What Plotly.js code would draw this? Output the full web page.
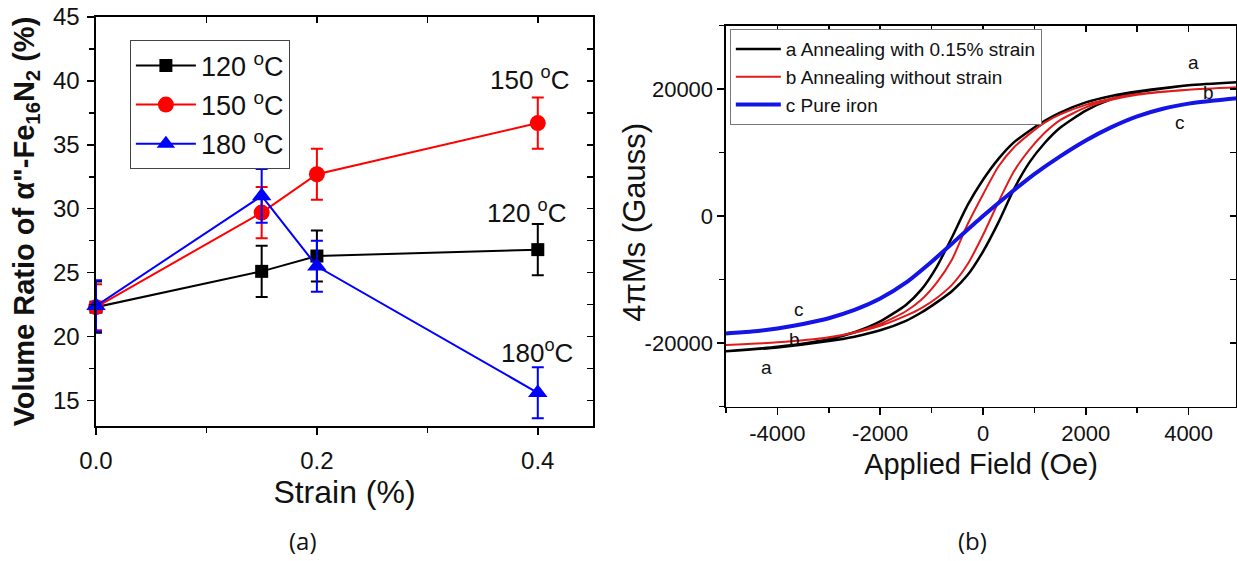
<!DOCTYPE html>
<html><head><meta charset="utf-8">
<script src="https://cdn.plot.ly/plotly-3.0.1.min.js"></script>
<style>html,body{margin:0;padding:0;background:#fff}#chart{width:1237px;height:561px}</style>
</head><body><div id="chart"></div>
<script>
// ---- Panel (a) data ----
const strain = [0, 0.15, 0.2, 0.4];
const ratio120 = [22.3, 25.1, 26.3, 26.8];
const err120 = [2, 2, 2, 2];
const ratio150 = [22.3, 29.7, 32.7, 36.7];
const err150 = [1.8, 2, 2, 2];
const ratio180 = [22.4, 31.0, 25.5, 15.6];
const err180 = [2, 2.1, 2, 2];
const seriesNames = ['120 <sup>o</sup>C', '150 <sup>o</sup>C', '180 <sup>o</sup>C'];

// ---- Panel (b) data: hysteresis loops (descending then ascending branch) ----
const aDescH = [5000, 4000, 3000, 2500, 2000, 1500, 1200, 900, 600, 300, 0, -300, -600, -900, -1200, -1500, -2000, -2500, -3000, -4000, -5000];
const aDescM = [21100, 20600, 19600, 18900, 17900, 16300, 15000, 13400, 11600, 9000, 5700, 1700, -3300, -8000, -11600, -14000, -16600, -18300, -19400, -20600, -21300];
const aAscH = [-5000, -4000, -3000, -2500, -2000, -1500, -1200, -900, -600, -300, 0, 300, 600, 900, 1200, 1500, 2000, 2500, 3000, 4000, 5000];
const aAscM = [-21300, -20700, -19700, -19000, -18000, -16500, -15200, -13600, -11800, -9300, -5600, -1000, 4200, 8400, 11500, 13900, 16600, 18400, 19500, 20600, 21100];

const bDescH = [5000, 4000, 3000, 2500, 2000, 1500, 1200, 900, 600, 300, 0, -300, -600, -900, -1200, -1500, -2000, -2500, -3000, -4000, -5000];
const bDescM = [20300, 19900, 19200, 18500, 17500, 16000, 14700, 12900, 10800, 7800, 3400, -1300, -6800, -10500, -13200, -15000, -17000, -18300, -19100, -19900, -20300];
const bAscH = [-5000, -4000, -3000, -2500, -2000, -1500, -1200, -900, -600, -300, 0, 300, 600, 900, 1200, 1500, 2000, 2500, 3000, 4000, 5000];
const bAscM = [-20300, -19900, -19150, -18400, -17300, -15700, -14500, -12900, -10800, -7600, -3000, 2200, 7000, 10400, 13100, 15100, 17100, 18300, 19100, 19900, 20300];

const cH = [-5000, -4500, -4000, -3500, -3000, -2500, -2000, -1500, -1000, -500, 0, 500, 1000, 1500, 2000, 2500, 3000, 3500, 4000, 4500, 5000];
const cM = [-18500, -18200, -17700, -17000, -16100, -14800, -13000, -10500, -7200, -3600, 0, 3400, 6600, 9400, 11900, 14000, 15700, 16900, 17700, 18200, 18600];
const loopNames = ['a Annealing with 0.15% strain', 'b Annealing without strain', 'c Pure iron'];

const FONT = 'Liberation Sans, Arial, sans-serif';

function errTrace(y, e, color, symbol, size, name, grp) {
  return {
    type: 'scatter', mode: 'lines+markers', x: strain, y: y, name: name,
    legendgroup: grp, legend: 'legend', cliponaxis: false,
    line: {color: color, width: 2},
    marker: {color: color, symbol: symbol, size: size},
    error_y: {type: 'data', array: e, visible: true, color: color, thickness: 2, width: 6},
    xaxis: 'x', yaxis: 'y', hoverinfo: 'skip'
  };
}

const traces = [
  errTrace(ratio120, err120, '#000000', 'square', 13, seriesNames[0], 'g1'),
  errTrace(ratio150, err150, '#ff0000', 'circle', 16, seriesNames[1], 'g2'),
  errTrace(ratio180, err180, '#0000ff', 'triangle-up', 17, seriesNames[2], 'g3'),
  {type: 'scatter', mode: 'lines', x: aDescH.concat(aAscH), y: aDescM.concat(aAscM), name: loopNames[0],
   legend: 'legend2', line: {color: '#000000', width: 2.5, shape: 'spline', smoothing: 0.6}, xaxis: 'x2', yaxis: 'y2', hoverinfo: 'skip'},
  {type: 'scatter', mode: 'lines', x: bDescH.concat(bAscH), y: bDescM.concat(bAscM), name: loopNames[1],
   legend: 'legend2', line: {color: '#e01b1b', width: 2, shape: 'spline', smoothing: 0.6}, xaxis: 'x2', yaxis: 'y2', hoverinfo: 'skip'},
  {type: 'scatter', mode: 'lines', x: cH, y: cM, name: loopNames[2],
   legend: 'legend2', line: {color: '#1414e6', width: 4, shape: 'spline', smoothing: 0.6}, xaxis: 'x2', yaxis: 'y2', hoverinfo: 'skip'},
  // empty helpers so the mirrored inner-tick axes are drawn
  {type: 'scatter', x: [], y: [], xaxis: 'x3', yaxis: 'y', showlegend: false, hoverinfo: 'skip'},
  {type: 'scatter', x: [], y: [], xaxis: 'x', yaxis: 'y3', showlegend: false, hoverinfo: 'skip'},
  {type: 'scatter', x: [], y: [], xaxis: 'x4', yaxis: 'y2', showlegend: false, hoverinfo: 'skip'},
  {type: 'scatter', x: [], y: [], xaxis: 'x2', yaxis: 'y4', showlegend: false, hoverinfo: 'skip'}
];

const axBase = {showgrid: false, zeroline: false, showline: true, linecolor: '#000', linewidth: 1.5,
  ticks: 'outside', ticklen: 7, tickwidth: 1.5, tickcolor: '#000', fixedrange: true,
  tickfont: {family: FONT, size: 24, color: '#111'}};
const innerBase = {showgrid: false, zeroline: false, showline: false, ticks: 'inside', ticklen: 6,
  tickwidth: 1.5, tickcolor: '#000', showticklabels: false, fixedrange: true};

const xRangeA = [0, 0.45], yRangeA = [13, 45];
const xRangeB = [-5000, 4922], yRangeB = [-30000, 30000];

const layout = {
  width: 1237, height: 561, margin: {l: 0, r: 0, t: 0, b: 0},
  paper_bgcolor: '#fff', plot_bgcolor: 'rgba(0,0,0,0)', hovermode: false,
  font: {family: FONT, color: '#111'},
  xaxis: Object.assign({}, axBase, {domain: [0.0776, 0.4794], range: xRangeA, anchor: 'y', mirror: true,
    tickmode: 'linear', tick0: 0, dtick: 0.2, tickformat: '.1f', ticklabelstandoff: 6,
    minor: {tickmode: 'linear', tick0: 0, dtick: 0.1, ticks: 'outside', ticklen: 5, tickwidth: 1.5, tickcolor: '#000'},
    title: {text: 'Strain (%)', font: {family: FONT, size: 32, color: '#111'}, standoff: 4}}),
  yaxis: Object.assign({}, axBase, {domain: [0.2406, 0.9697], range: yRangeA, anchor: 'x', mirror: true,
    tickmode: 'linear', tick0: 0, dtick: 5, ticklabelstandoff: 3,
    minor: {tickmode: 'linear', tick0: 0, dtick: 2.5, ticks: 'outside', ticklen: 5, tickwidth: 1.5, tickcolor: '#000'},
    title: {text: 'Volume Ratio of α"-Fe<sub>16</sub>N<sub>2</sub> (%)', font: {family: FONT, size: 29, color: '#111', weight: 'bold'}, standoff: 10}}),
  xaxis3: Object.assign({}, innerBase, {overlaying: 'x', anchor: 'y', side: 'top', range: xRangeA, tickmode: 'linear', tick0: 0, dtick: 0.1}),
  yaxis3: Object.assign({}, innerBase, {overlaying: 'y', anchor: 'x', side: 'right', range: yRangeA, tickmode: 'linear', tick0: 0, dtick: 2.5}),

  xaxis2: Object.assign({}, axBase, {domain: [0.5869, 0.9992], range: xRangeB, anchor: 'y2', mirror: true,
    tickmode: 'array', tickvals: [-4000, -2000, 0, 2000, 4000], ticktext: ['-4000', '-2000', '0', '2000', '4000'],
    tickfont: {family: FONT, size: 22, color: '#111'},
    minor: {tickmode: 'linear', tick0: 0, dtick: 1000, ticks: 'outside', ticklen: 5, tickwidth: 1.5, tickcolor: '#000'},
    title: {text: 'Applied Field (Oe)', font: {family: FONT, size: 29, color: '#111'}, standoff: 8}}),
  yaxis2: Object.assign({}, axBase, {domain: [0.2754, 0.9545], range: yRangeB, anchor: 'x2', mirror: true,
    tickmode: 'array', tickvals: [-20000, 0, 20000], ticktext: ['-20000', '0', '20000'],
    tickfont: {family: FONT, size: 22, color: '#111'},
    minor: {tickmode: 'linear', tick0: 0, dtick: 10000, ticks: 'outside', ticklen: 5, tickwidth: 1.5, tickcolor: '#000'}}),
  xaxis4: Object.assign({}, innerBase, {overlaying: 'x2', anchor: 'y2', side: 'top', range: xRangeB, tickmode: 'linear', tick0: 0, dtick: 1000}),
  yaxis4: Object.assign({}, innerBase, {overlaying: 'y2', anchor: 'x2', side: 'right', range: yRangeB, tickmode: 'linear', tick0: 0, dtick: 10000}),

  legend: {x: 0.105, y: 0.928, xanchor: 'left', yanchor: 'top', bgcolor: '#fff', bordercolor: '#444', borderwidth: 1,
    font: {family: FONT, size: 27, color: '#111'}, itemwidth: 60, traceorder: 'grouped', tracegroupgap: 1},
  legend2: {x: 0.590, y: 0.948, xanchor: 'left', yanchor: 'top', bgcolor: '#fff', bordercolor: '#777', borderwidth: 1,
    font: {family: FONT, size: 19, color: '#111'}, itemwidth: 45},

  annotations: [
    {xref: 'x', yref: 'y', x: 0.393, y: 40.2, text: '150 <sup>o</sup>C', showarrow: false, font: {family: FONT, size: 26, color: '#111'}},
    {xref: 'x', yref: 'y', x: 0.390, y: 29.8, text: '120 <sup>o</sup>C', showarrow: false, font: {family: FONT, size: 26, color: '#111'}},
    {xref: 'x', yref: 'y', x: 0.399, y: 18.8, text: '180<sup>o</sup>C', showarrow: false, font: {family: FONT, size: 26, color: '#111'}},
    {xref: 'x2', yref: 'y2', x: 4098, y: 24100, text: 'a', showarrow: false, font: {family: FONT, size: 19, color: '#111'}},
    {xref: 'x2', yref: 'y2', x: 4389, y: 19530, text: 'b', showarrow: false, font: {family: FONT, size: 19, color: '#111'}},
    {xref: 'x2', yref: 'y2', x: 3826, y: 14800, text: 'c', showarrow: false, font: {family: FONT, size: 19, color: '#111'}},
    {xref: 'x2', yref: 'y2', x: -3573, y: -14650, text: 'c', showarrow: false, font: {family: FONT, size: 19, color: '#111'}},
    {xref: 'x2', yref: 'y2', x: -3670, y: -19370, text: 'b', showarrow: false, font: {family: FONT, size: 19, color: '#111'}},
    {xref: 'x2', yref: 'y2', x: -4214, y: -23780, text: 'a', showarrow: false, font: {family: FONT, size: 19, color: '#111'}},
    {xref: 'paper', yref: 'paper', x: 0.513, y: 0.604, xanchor: 'center', yanchor: 'middle', text: '4πMs (Gauss)', textangle: -90, showarrow: false,
     font: {family: FONT, size: 31, color: '#111'}},
    {xref: 'paper', yref: 'paper', x: 0.245, y: 0.036, xanchor: 'center', yanchor: 'middle', text: '(a)', showarrow: false, font: {family: 'Open Sans, sans-serif', size: 24, color: '#111'}},
    {xref: 'paper', yref: 'paper', x: 0.786, y: 0.036, xanchor: 'center', yanchor: 'middle', text: '(b)', showarrow: false, font: {family: 'Open Sans, sans-serif', size: 24, color: '#111'}}
  ]
};

Plotly.newPlot('chart', traces, layout, {displayModeBar: false, staticPlot: true});
</script></body></html>
